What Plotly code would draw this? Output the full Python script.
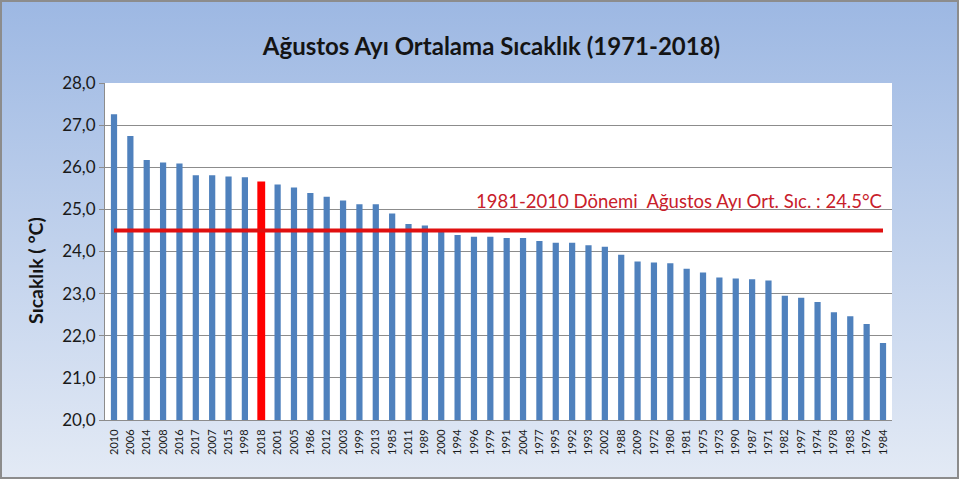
import base64

import plotly.graph_objects as go

years = [
    "2010", "2006", "2014", "2008", "2016", "2017", "2007", "2015", "1998", "2018",
    "2001", "2005", "1986", "2012", "2003", "1999", "2013", "1985", "2011", "1989",
    "2000", "1994", "1996", "1979", "1991", "2004", "1977", "1995", "1992", "1993",
    "2002", "1988", "2009", "1972", "1980", "1981", "1975", "1973", "1990", "1987",
    "1971", "1982", "1997", "1974", "1978", "1983", "1976", "1984",
]
temps = [
    27.26, 26.74, 26.17, 26.11, 26.09, 25.81, 25.81, 25.78, 25.76, 25.66,
    25.59, 25.52, 25.39, 25.30, 25.21, 25.12, 25.12, 24.90, 24.65, 24.62,
    24.46, 24.39, 24.35, 24.35, 24.32, 24.32, 24.25, 24.21, 24.21, 24.15,
    24.11, 23.92, 23.76, 23.74, 23.72, 23.59, 23.50, 23.38, 23.36, 23.34,
    23.31, 22.95, 22.90, 22.80, 22.56, 22.46, 22.28, 21.83,
]
highlight_year = "2018"
normal_value = 24.5
normal_label = "1981-2010 Dönemi  Ağustos Ayı Ort. Sıc. : 24.5°C"

W, H = 960, 480
L, R, T, B = 105, 68, 83, 60
pw, ph = W - L - R, H - T - B

BLUE = "#4F81BD"
RED = "#FF0000"
FONT = "Lato"

bar_colors = [RED if y == highlight_year else BLUE for y in years]
bar_widths = [0.48 if y == highlight_year else 0.38 for y in years]

# gradient frame behind the chart (image spanning the whole page)
svg = f"""<svg xmlns='http://www.w3.org/2000/svg' width='{W}' height='{H}'>
<defs><linearGradient id='g' x1='0' y1='0' x2='0' y2='1'>
<stop offset='0' stop-color='#9DB8E3'/><stop offset='1' stop-color='#E3EAF5'/>
</linearGradient></defs>
<rect x='1' y='1' width='{W - 3}' height='{H - 3}' fill='url(#g)' stroke='#8C8C8C' stroke-width='2'/>
</svg>"""
bg_src = "data:image/svg+xml;base64," + base64.b64encode(svg.encode()).decode()

fig = go.Figure()
fig.add_trace(go.Bar(
    x=years, y=temps, marker_color=bar_colors, width=bar_widths,
    marker_line_width=0,
))
fig.add_trace(go.Scatter(
    x=[years[0], years[-1]], y=[normal_value, normal_value], mode="lines",
    line=dict(color="#E01010", width=4),
))

fig.update_layout(
    width=W, height=H,
    margin=dict(l=L, r=R, t=T, b=B, autoexpand=False),
    paper_bgcolor="rgba(0,0,0,0)",
    plot_bgcolor="rgba(0,0,0,0)",
    showlegend=False,
    separators=",.",
    font=dict(family=FONT, color="#1A1A1A"),
    title=dict(
        text="<b>Ağustos Ayı Ortalama Sıcaklık (1971-2018)</b>",
        x=0.512, xanchor="center", y=0.902, yanchor="middle",
        font=dict(size=24, color="#141414"),
    ),
    images=[dict(
        source=bg_src, xref="paper", yref="paper",
        x=-L / pw, y=1 + T / ph, sizex=W / pw, sizey=H / ph,
        xanchor="left", yanchor="top", sizing="stretch", layer="below",
    )],
    shapes=[dict(
        type="rect", xref="paper", yref="paper", x0=0, x1=1, y0=0, y1=1,
        fillcolor="white", line_width=0, layer="below",
    )],
    annotations=[
        dict(
            text="<b>Sıcaklık ( °C)</b>", textangle=-90,
            xref="paper", yref="paper", x=-70 / pw, y=(420 - 271) / ph,
            xanchor="center", yanchor="middle", showarrow=False,
            font=dict(size=19.5, color="#141414"),
        ),
        dict(
            text=normal_label, xref="paper", yref="y",
            x=(884 - L) / pw, y=normal_value + 0.38,
            xanchor="right", yanchor="bottom", showarrow=False,
            font=dict(size=18.5, color="#C8202A"),
        ),
    ],
)
fig.update_xaxes(
    type="category", tickangle=-90, tickfont=dict(size=11),
    showline=True, linecolor="#8C8C8C", linewidth=1,
    ticks="outside", ticklen=4, tickcolor="rgba(0,0,0,0)",
    showgrid=False, range=[-0.55, len(years) - 0.45],
)
fig.update_yaxes(
    range=[20, 28], dtick=1, tickformat=".1f", tickfont=dict(size=17),
    showgrid=True, gridcolor="#8C8C8C", gridwidth=1,
    showline=True, linecolor="#8C8C8C", linewidth=1,
    ticks="outside", ticklen=5, tickcolor="#8C8C8C", zeroline=False,
)

fig.write_html(
    "out.html",
    config={"displayModeBar": False},
    post_script="document.body.style.margin='0';",
)
